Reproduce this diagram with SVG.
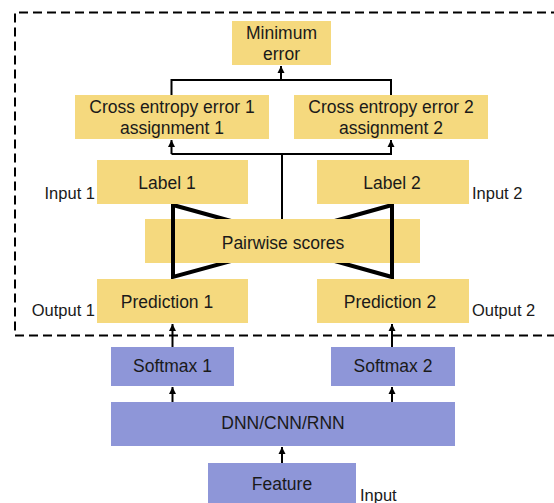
<svg xmlns="http://www.w3.org/2000/svg" width="554" height="503" viewBox="0 0 554 503">
<defs>
<marker id="ah" viewBox="0 0 10 10" refX="10" refY="5" markerWidth="3.5" markerHeight="4" orient="auto" markerUnits="strokeWidth">
<path d="M0,0 L10,5 L0,10 z" fill="#000"/>
</marker>
<style>
.y{fill:#F5D97E}
.p{fill:#8E96D8}
.t{font-family:"Liberation Sans",Arial,sans-serif;font-size:17.5px;fill:#1a1a1a;text-anchor:middle}
.s{font-family:"Liberation Sans",Arial,sans-serif;font-size:16.5px;fill:#1a1a1a}
.c{fill:none;stroke:#000;stroke-width:2}
.a{marker-end:url(#ah)}
</style>
</defs>
<rect width="554" height="503" fill="#fff"/>
<path d="M560 12.5 H15 V335.5 H560" fill="none" stroke="#000" stroke-width="2" stroke-dasharray="9,5"/>
<g id="bowtie">
<polygon points="173,205 304,241 173,277" fill="none" stroke="#000" stroke-width="4"/>
<polygon points="392,205 263,241 392,277" fill="none" stroke="#000" stroke-width="4"/>
</g>
<g id="connectors">
<path class="c" d="M171.5 95 V80 H391 V95"/>
<path class="c a" d="M281 80 V66" stroke-width="3"/>
<path class="c" d="M282 219 V154"/>
<path class="c a" d="M171.5 154 H391 V140"/>
<path class="c a" d="M171.5 154 V140"/>
<path class="c a" d="M172.5 347 V324"/>
<path class="c a" d="M392 347 V324"/>
<path class="c a" d="M172.5 402 V387"/>
<path class="c a" d="M392 402 V387"/>
<path class="c a" d="M282 463 V447"/>
</g>
<g id="min"><rect class="y" x="232" y="21" width="99" height="44"/><text class="t" x="281.5" y="39">Minimum</text><text class="t" x="281.5" y="60">error</text></g>
<g id="ce1"><rect class="y" x="75" y="95" width="194" height="44"/><text class="t" x="172" y="113">Cross entropy error 1</text><text class="t" x="172" y="134">assignment 1</text></g>
<g id="ce2"><rect class="y" x="294" y="95" width="194" height="44"/><text class="t" x="391" y="113">Cross entropy error 2</text><text class="t" x="391" y="134">assignment 2</text></g>
<g id="label1"><rect class="y" x="97" y="160" width="151" height="44"/><text class="t" x="167" y="189">Label 1</text></g>
<g id="label2"><rect class="y" x="317" y="160" width="152" height="44"/><text class="t" x="392" y="189">Label 2</text></g>
<g id="pairwise"><rect class="y" x="145" y="219" width="275" height="44"/><text class="t" x="283" y="249">Pairwise scores</text></g>
<g id="bowtie-sides">
<line x1="173" y1="205" x2="173" y2="277" stroke="#000" stroke-width="4"/>
<line x1="392" y1="205" x2="392" y2="277" stroke="#000" stroke-width="4"/>
</g>
<g id="pred1"><rect class="y" x="97" y="279" width="151" height="44"/><text class="t" x="167" y="308">Prediction 1</text></g>
<g id="pred2"><rect class="y" x="317" y="279" width="152" height="44"/><text class="t" x="390" y="308">Prediction 2</text></g>
<g id="soft1"><rect class="p" x="111" y="347" width="123" height="39"/><text class="t" x="172.5" y="372">Softmax 1</text></g>
<g id="soft2"><rect class="p" x="331" y="347" width="124" height="39"/><text class="t" x="393" y="372">Softmax 2</text></g>
<g id="dnn"><rect class="p" x="111" y="402" width="344" height="44"/><text class="t" x="283" y="429">DNN/CNN/RNN</text></g>
<g id="feature"><rect class="p" x="208" y="463" width="148" height="44"/><text class="t" x="282" y="490">Feature</text></g>
<g id="labels">
<text class="s" x="95" y="199" text-anchor="end">Input 1</text>
<text class="s" x="472" y="199">Input 2</text>
<text class="s" x="95" y="316" text-anchor="end">Output 1</text>
<text class="s" x="472" y="316">Output 2</text>
<text class="s" x="360" y="501">Input</text>
</g>
</svg>
